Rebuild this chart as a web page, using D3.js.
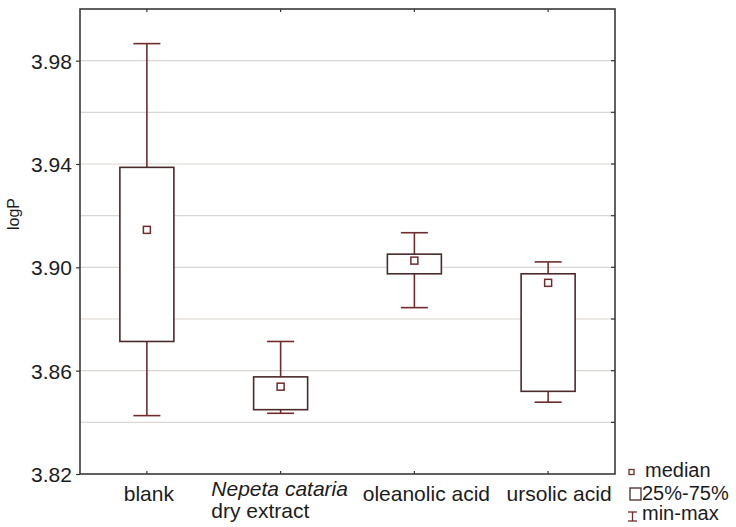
<!DOCTYPE html>
<html>
<head>
<meta charset="utf-8">
<script src="https://cdn.jsdelivr.net/npm/d3@7"></script>
<style>
  body { margin: 0; background: #fff; }
  text { font-family: "Liberation Sans", Arial, sans-serif; fill: #1c1c1c; }
</style>
</head>
<body>
<div class="graphics"></div>
<script>
// groups and their box statistics
var groups = ["blank", "Nepeta cataria|dry extract", "oleanolic acid", "ursolic acid"];
var mins    = [3.8426, 3.8435, 3.8844, 3.8478];
var q1s     = [3.8713, 3.8449, 3.8975, 3.8520];
var medians = [3.9145, 3.8538, 3.9026, 3.8940];
var q3s     = [3.9387, 3.8576, 3.9051, 3.8975];
var maxs    = [3.9866, 3.8713, 3.9134, 3.9021];
var yTicks  = [3.82, 3.86, 3.90, 3.94, 3.98];
var yGrid   = [3.84, 3.86, 3.88, 3.90, 3.92, 3.94, 3.96, 3.98];
var legendItems = ["median", "25%-75%", "min-max"];

function boxplot() {
    var margin = {top: 9, right: 121, bottom: 53, left: 80},
        width = 736 - margin.left - margin.right,
        height = 527 - margin.top - margin.bottom;

    var col = "#6f2c2c";

    var svg = d3.select(".graphics")
        .append("svg")
        .attr("width", 736)
        .attr("height", 527);

    var g = svg.append("g")
        .attr("transform", "translate(" + margin.left + "," + margin.top + ")");

    var x = d3.scalePoint()
        .domain(groups)
        .range([0, width])
        .padding(0.5);

    var y = d3.scaleLinear()
        .domain([3.82, 4.00])
        .range([height, 0]);

    // grid
    g.selectAll("line.grid")
        .data(yGrid)
        .enter()
        .append("line")
        .attr("x1", 0).attr("x2", width)
        .attr("y1", function(d) { return y(d); })
        .attr("y2", function(d) { return y(d); })
        .attr("stroke", "#dcd6d2")
        .attr("stroke-width", 1.2);

    // left axis
    var left = g.append("g")
        .call(d3.axisLeft(y).tickValues(yTicks).tickSize(4).tickFormat(d3.format(".2f")));
    left.select(".domain").remove();
    left.selectAll("line").attr("stroke", "#333").attr("stroke-width", 1.2);
    left.selectAll("text").attr("font-size", "21px").attr("dx", "-0.05em").attr("dy", "0.36em");

    // right ticks, inward
    g.selectAll("line.rtick")
        .data(yGrid)
        .enter()
        .append("line")
        .attr("x1", width).attr("x2", width - 4)
        .attr("y1", function(d) { return y(d); })
        .attr("y2", function(d) { return y(d); })
        .attr("stroke", "#333").attr("stroke-width", 1.2);

    // top / bottom ticks, inward
    g.selectAll("line.ttick")
        .data(groups)
        .enter()
        .append("line")
        .attr("x1", function(d) { return x(d); })
        .attr("x2", function(d) { return x(d); })
        .attr("y1", 0).attr("y2", 3)
        .attr("stroke", "#333").attr("stroke-width", 1.2);
    g.selectAll("line.btick")
        .data(groups)
        .enter()
        .append("line")
        .attr("x1", function(d) { return x(d); })
        .attr("x2", function(d) { return x(d); })
        .attr("y1", height).attr("y2", height - 3)
        .attr("stroke", "#333").attr("stroke-width", 1.2);

    // frame
    g.append("rect")
        .attr("width", width).attr("height", height)
        .attr("fill", "none")
        .attr("stroke", "#3a3a3a")
        .attr("stroke-width", 1.6);

    var boxW = 54, capW = 27, medS = 7;

    var data = groups.map(function(k, i) {
        return {key: k, min: mins[i], q1: q1s[i], med: medians[i], q3: q3s[i], max: maxs[i]};
    });

    var box = g.selectAll("g.box")
        .data(data)
        .enter()
        .append("g")
        .attr("transform", function(d) { return "translate(" + x(d.key) + ",0)"; });

    // whiskers
    box.append("line")
        .attr("x1", 0).attr("x2", 0)
        .attr("y1", function(d) { return y(d.max); })
        .attr("y2", function(d) { return y(d.q3); })
        .attr("stroke", col).attr("stroke-width", 1.6);
    box.append("line")
        .attr("x1", 0).attr("x2", 0)
        .attr("y1", function(d) { return y(d.q1); })
        .attr("y2", function(d) { return y(d.min); })
        .attr("stroke", col).attr("stroke-width", 1.6);
    box.append("line")
        .attr("x1", -capW / 2).attr("x2", capW / 2)
        .attr("y1", function(d) { return y(d.max); })
        .attr("y2", function(d) { return y(d.max); })
        .attr("stroke", col).attr("stroke-width", 1.6);
    box.append("line")
        .attr("x1", -capW / 2).attr("x2", capW / 2)
        .attr("y1", function(d) { return y(d.min); })
        .attr("y2", function(d) { return y(d.min); })
        .attr("stroke", col).attr("stroke-width", 1.6);

    // boxes
    box.append("rect")
        .attr("x", -boxW / 2)
        .attr("width", boxW)
        .attr("y", function(d) { return y(d.q3); })
        .attr("height", function(d) { return y(d.q1) - y(d.q3); })
        .attr("fill", "#fff")
        .attr("stroke", "#4a2a2a")
        .attr("stroke-width", 1.6);

    // medians
    box.append("rect")
        .attr("x", -medS / 2)
        .attr("width", medS).attr("height", medS)
        .attr("y", function(d) { return y(d.med) - medS / 2; })
        .attr("fill", "#fff")
        .attr("stroke", col)
        .attr("stroke-width", 1.5);

    // category labels
    var nudge = [2, -1, 12, 11];
    groups.forEach(function(k, i) {
        var parts = k.split("|");
        var cx = margin.left + x(k) + nudge[i];
        if (parts.length === 1) {
            svg.append("text")
                .attr("x", cx).attr("y", 501)
                .attr("text-anchor", "middle")
                .attr("font-size", "21px")
                .text(k);
        } else {
            var t1 = svg.append("text")
                .attr("x", cx).attr("y", 496)
                .attr("text-anchor", "middle")
                .attr("font-size", "21px")
                .attr("font-style", "italic")
                .text(parts[0]);
            var w = t1.node().getComputedTextLength();
            svg.append("text")
                .attr("x", cx - w / 2).attr("y", 518)
                .attr("font-size", "21px")
                .text(parts[1]);
        }
    });

    // y title
    svg.append("text")
        .attr("transform", "translate(19,214) rotate(-90)")
        .attr("text-anchor", "middle")
        .attr("font-size", "16px")
        .text("logP");

    // legend
    var lg = svg.append("g");
    lg.append("rect")
        .attr("x", 629).attr("y", 469.5).attr("width", 5).attr("height", 5)
        .attr("fill", "#fff").attr("stroke", col).attr("stroke-width", 1.3);
    lg.append("rect")
        .attr("x", 630).attr("y", 488).attr("width", 11).attr("height", 12)
        .attr("fill", "#fff").attr("stroke", "#4a2a2a").attr("stroke-width", 1.3);
    lg.append("line").attr("x1", 632.5).attr("x2", 632.5).attr("y1", 512).attr("y2", 521)
        .attr("stroke", col).attr("stroke-width", 1.3);
    lg.append("line").attr("x1", 628).attr("x2", 637).attr("y1", 512).attr("y2", 512)
        .attr("stroke", col).attr("stroke-width", 1.3);
    lg.append("line").attr("x1", 628).attr("x2", 637).attr("y1", 521).attr("y2", 521)
        .attr("stroke", col).attr("stroke-width", 1.3);

    var lx = [645, 642, 642], ly = [477, 500, 520];
    lg.selectAll("text")
        .data(legendItems)
        .enter()
        .append("text")
        .attr("x", function(d, i) { return lx[i]; })
        .attr("y", function(d, i) { return ly[i]; })
        .attr("font-size", "20px")
        .text(function(d) { return d; });
}

boxplot();
</script>
</body>
</html>
